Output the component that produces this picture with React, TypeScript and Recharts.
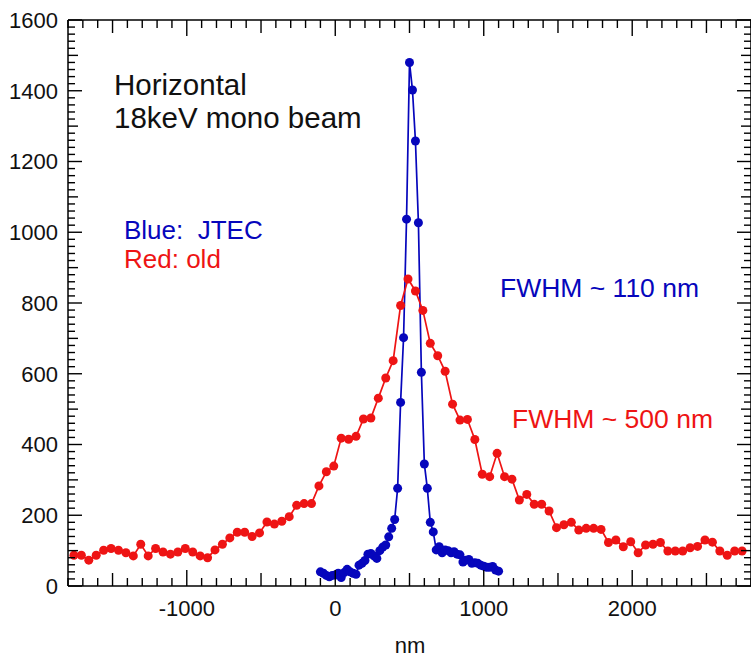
import React from 'react';
import { LineChart, Line, XAxis, YAxis } from 'recharts';

// Red ("old") profile: sampled every 50 nm starting at -1760 nm
const RED_START = -1760;
const RED_STEP = 50;
const redValues = [
  87, 87, 73, 87, 101, 106, 101, 94, 85, 118,
  85, 106, 96, 90, 96, 106, 96, 85, 80, 102,
  118, 136, 152, 152, 140, 150, 181, 175, 183, 196,
  228, 233, 233, 283, 323, 339, 418, 415, 423, 472,
  475, 531, 588, 637, 793, 868, 834, 779, 686, 651,
  607, 514, 469, 471, 414, 316, 309, 375, 309, 302,
  243, 259, 231, 231, 212, 165, 173, 180, 158, 163,
  163, 160, 123, 130, 111, 125, 94, 116, 118, 123,
  99, 99, 99, 108, 112, 130, 124, 99, 87, 99, 99,
];

// Blue ("JTEC") profile: sampled every 20 nm starting at -100 nm
const BLUE_START = -100;
const BLUE_STEP = 20;
const blueValues = [
  40, 36, 30, 26, 30, 31, 36, 24, 38, 47,
  40, 36, 33, 59, 64, 72, 90, 92, 85, 78,
  100, 110, 116, 139, 163, 188, 276, 519, 702, 1037,
  1480, 1402, 1258, 1027, 604, 345, 276, 180, 153, 102,
  111, 94, 102, 100, 94, 97, 90, 88, 68, 73,
  75, 64, 66, 64, 59, 56, 53, 53, 55, 45, 42,
];

const X_DOMAIN: [number, number] = [-1800, 2800];
const Y_DOMAIN: [number, number] = [0, 1600];
const xTickValues: number[] = [];
for (let v = -1800; v <= 2800; v += 100) xTickValues.push(v);
const yTickValues: number[] = [];
for (let v = 0; v <= 1600; v += 20) yTickValues.push(v);

const redData = redValues.map((y, i) => ({ x: RED_START + RED_STEP * i, y }));
const blueData = blueValues.map((y, i) => ({ x: BLUE_START + BLUE_STEP * i, y }));

const RED = '#ee1414';
const BLUE = '#0606bc';
const FONT = '"Liberation Sans", Arial, sans-serif';
const TICK_FS = 22;

const xLen = (v: number) => (v % 1000 === 0 ? 16 : v % 500 === 0 ? 13 : 8);
const yLen = (v: number) => (v % 200 === 0 ? 14 : v % 100 === 0 ? 10 : 7);

const BottomTick = (props: any) => {
  const { x, y, payload } = props;
  const v = payload.value;
  return (
    <g>
      <line x1={x} x2={x} y1={y} y2={y - xLen(v)} stroke="#000" strokeWidth={1.4} />
      {v % 1000 === 0 && (
        <text x={x} y={y + 30} textAnchor="middle" fontSize={TICK_FS} fontFamily={FONT} fill="#111">
          {String(v)}
        </text>
      )}
    </g>
  );
};

const TopTick = (props: any) => {
  const { x, y, payload } = props;
  const v = payload.value;
  return <line x1={x} x2={x} y1={y} y2={y + xLen(v)} stroke="#000" strokeWidth={1.4} />;
};

const LeftTick = (props: any) => {
  const { x, y, payload } = props;
  const v = payload.value;
  return (
    <g>
      <line x1={x} x2={x + yLen(v)} y1={y} y2={y} stroke="#000" strokeWidth={1.4} />
      {v % 200 === 0 && (
        <text x={x - 10} y={y} dy="0.36em" textAnchor="end" fontSize={TICK_FS} fontFamily={FONT} fill="#111">
          {String(v)}
        </text>
      )}
    </g>
  );
};

const RightTick = (props: any) => {
  const { x, y, payload } = props;
  const v = payload.value;
  return <line x1={x} x2={x - yLen(v)} y1={y} y2={y} stroke="#000" strokeWidth={1.4} />;
};

export default function App() {
  return (
    <div style={{ position: 'absolute', left: 0, top: 0, width: 751, height: 659, overflow: 'hidden', background: '#fff' }}>
      <LineChart width={752} height={659} margin={{ top: 19, right: 0, bottom: 0, left: 0 }}>
        <XAxis
          xAxisId="bottom"
          type="number"
          dataKey="x"
          domain={X_DOMAIN}
          allowDataOverflow
          ticks={xTickValues}
          interval={0}
          height={73}
          tickSize={0}
          tickMargin={0}
          tick={<BottomTick />}
          axisLine={{ stroke: '#000', strokeWidth: 1.5 }}
          tickLine={false}
        />
        <XAxis
          xAxisId="top"
          orientation="top"
          type="number"
          dataKey="x"
          domain={X_DOMAIN}
          allowDataOverflow
          ticks={xTickValues}
          interval={0}
          height={1}
          tickSize={0}
          tickMargin={0}
          tick={<TopTick />}
          axisLine={{ stroke: '#000', strokeWidth: 1.5 }}
          tickLine={false}
        />
        <YAxis
          yAxisId="left"
          type="number"
          domain={Y_DOMAIN}
          allowDataOverflow
          ticks={yTickValues}
          interval={0}
          width={68}
          tickSize={0}
          tickMargin={0}
          tick={<LeftTick />}
          axisLine={{ stroke: '#000', strokeWidth: 1.5 }}
          tickLine={false}
        />
        <YAxis
          yAxisId="right"
          orientation="right"
          type="number"
          domain={Y_DOMAIN}
          allowDataOverflow
          ticks={yTickValues}
          interval={0}
          width={1}
          tickSize={0}
          tickMargin={0}
          tick={<RightTick />}
          axisLine={{ stroke: '#000', strokeWidth: 1.5 }}
          tickLine={false}
        />
        <Line
          xAxisId="bottom"
          yAxisId="left"
          data={blueData}
          dataKey="y"
          type="linear"
          stroke={BLUE}
          strokeWidth={1.7}
          dot={{ r: 4.5, fill: BLUE, stroke: 'none' }}
          activeDot={false}
          isAnimationActive={false}
        />
        <Line
          xAxisId="bottom"
          yAxisId="left"
          data={redData}
          dataKey="y"
          type="linear"
          stroke={RED}
          strokeWidth={1.7}
          dot={{ r: 4.5, fill: RED, stroke: 'none' }}
          activeDot={false}
          isAnimationActive={false}
        />
      </LineChart>
      <svg
        width={751}
        height={659}
        style={{ position: 'absolute', left: 0, top: 0, pointerEvents: 'none' }}
        fontFamily={FONT}
      >
        <text x={114} y={95} fontSize={29.5} fill="#111">Horizontal</text>
        <text x={114} y={128} fontSize={29.5} fill="#111">18keV mono beam</text>
        <text x={124} y={239} fontSize={26} fill={BLUE} style={{ whiteSpace: 'pre' }}>{'Blue:  JTEC'}</text>
        <text x={124} y={268} fontSize={26} fill={RED}>Red: old</text>
        <text x={500} y={297} fontSize={26.5} fill={BLUE}>FWHM ~ 110 nm</text>
        <text x={512} y={428} fontSize={26.5} fill={RED}>FWHM ~ 500 nm</text>
        <text x={410} y={653} fontSize={22} textAnchor="middle" fill="#111">nm</text>
      </svg>
    </div>
  );
}
